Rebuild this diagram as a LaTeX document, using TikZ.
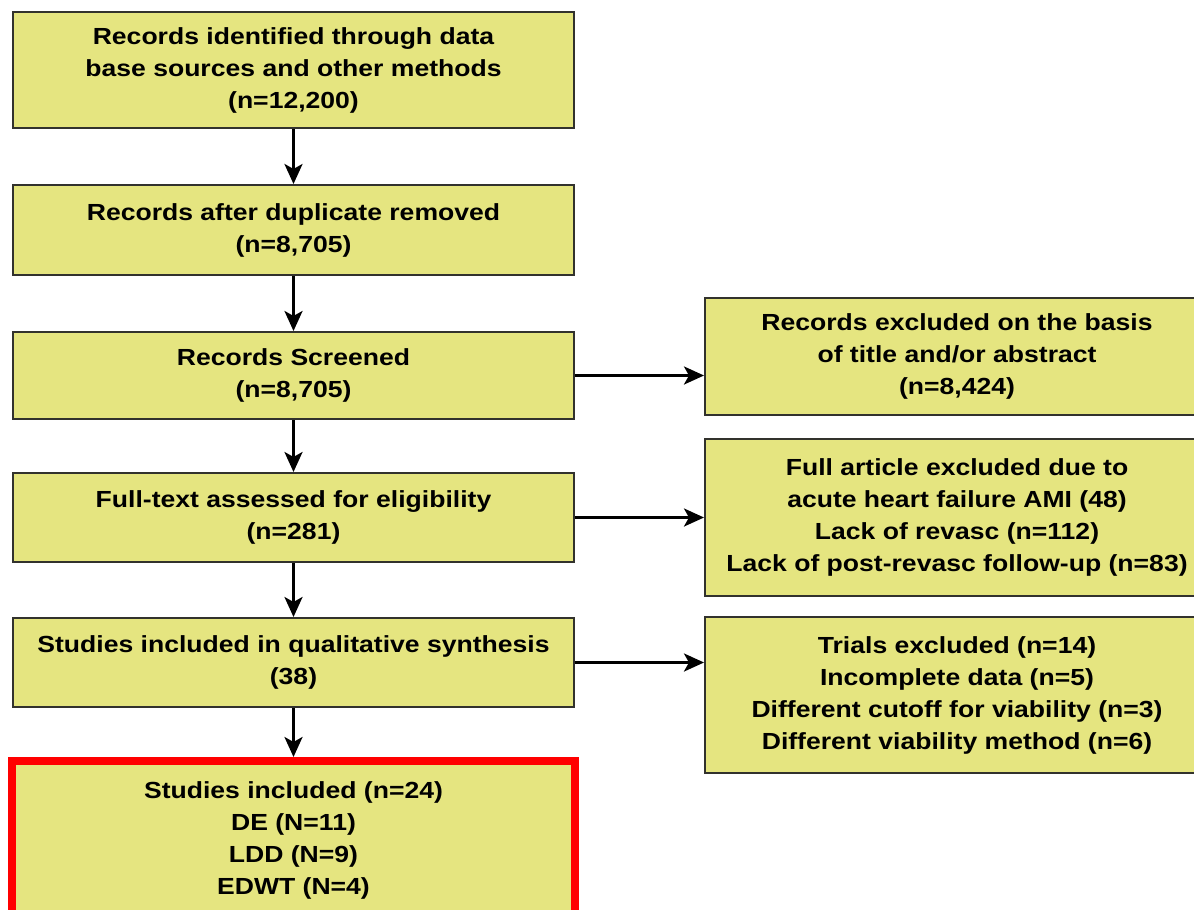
\documentclass[tikz,border=0pt]{standalone}
\usepackage{fontspec}
\setmainfont[FakeStretch=1.14]{Liberation Sans}
\usetikzlibrary{arrows.meta}
\definecolor{boxfill}{RGB}{229,229,128}
\definecolor{boxline}{RGB}{50,50,45}
\begin{document}
\begin{tikzpicture}[x=1pt,y=-1pt,
  flowbox/.style={draw=boxline, line width=2pt, fill=boxfill, rectangle, align=center,
    inner sep=0pt, font=\fontsize{23.3}{32}\selectfont\bfseries},
  redbox/.style={flowbox, draw=red, line width=8pt},
  conn/.style={line width=3pt, -{Stealth[length=20pt,width=18pt,inset=5pt]}}]
\useasboundingbox (0,0) rectangle (1194,910);
\node[flowbox, minimum width=561pt, minimum height=116pt] (b1) at (293.5,70)
  {Records identified through data\\base sources and other methods\\(n=12,200)};
\node[flowbox, minimum width=561pt, minimum height=90pt] (b2) at (293.5,230)
  {Records after duplicate removed\\(n=8,705)};
\node[flowbox, minimum width=561pt, minimum height=87pt] (b3) at (293.5,375.5)
  {Records Screened\\(n=8,705)};
\node[flowbox, minimum width=561pt, minimum height=89pt] (b4) at (293.5,517.5)
  {Full-text assessed for eligibility\\(n=281)};
\node[flowbox, minimum width=561pt, minimum height=89pt] (b5) at (293.5,662.5)
  {Studies included in qualitative synthesis\\(38)};
\node[redbox, minimum width=563pt, minimum height=158pt] (b6) at (293.5,840)
  {Studies included (n=24)\\DE (N=11)\\LDD (N=9)\\EDWT (N=4)};
\node[flowbox, minimum width=504pt, minimum height=117pt] (r1) at (957,356.5)
  {Records excluded on the basis\\of title and/or abstract\\(n=8,424)};
\node[flowbox, minimum width=504pt, minimum height=157pt] (r2) at (957,517.5)
  {Full article excluded due to\\acute heart failure AMI (48)\\Lack of revasc (n=112)\\Lack of post-revasc follow-up (n=83)};
\node[flowbox, minimum width=504pt, minimum height=156pt] (r3) at (957,695)
  {Trials excluded (n=14)\\Incomplete data (n=5)\\Different cutoff for viability (n=3)\\Different viability method (n=6)};
\draw[conn] (b1) -- (b2);
\draw[conn] (b2) -- (b3);
\draw[conn] (b3) -- (b4);
\draw[conn] (b4) -- (b5);
\draw[conn] (b5) -- (b6);
\draw[conn] (b3.east) -- (b3.east -| r1.west);
\draw[conn] (b4.east) -- (b4.east -| r2.west);
\draw[conn] (b5.east) -- (b5.east -| r3.west);
\end{tikzpicture}
\end{document}
